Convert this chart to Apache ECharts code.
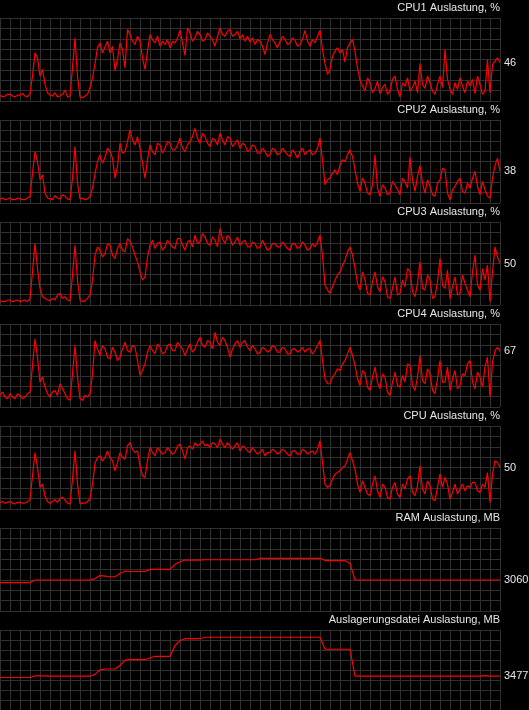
<!DOCTYPE html>
<html><head><meta charset="utf-8">
<script src="https://cdn.jsdelivr.net/npm/echarts@6/dist/echarts.min.js"></script>
<style>html,body{margin:0;padding:0;background:#000;}#c{width:529px;height:710px;}</style>
</head><body><div id="c"></div>
<script>
// sample indices (time steps)
const samplesFine = Array.from({length: 201}, (_, i) => String(i));
const samplesCoarse = Array.from({length: 101}, (_, i) => String(i));

const titles = ['CPU1 Auslastung, %','CPU2 Auslastung, %','CPU3 Auslastung, %','CPU4 Auslastung, %','CPU Auslastung, %','RAM Auslastung, MB','Auslagerungsdatei Auslastung, MB'];
const axisMax = [100,100,100,100,100,8192,8192];

const cpu1 = [7,5,6,8,8,6,5,7,7,9,6,5,9,30,58,52,30,38,20,10,
  7,6,10,5,6,8,13,5,6,40,76,30,5,4,6,8,16,28,45,64,
  70,58,65,72,58,66,37,50,70,62,40,86,80,72,68,78,72,52,38,60,
  80,74,70,78,66,72,68,74,64,72,70,76,85,70,55,88,82,72,76,84,
  80,72,74,82,78,74,66,78,88,80,78,84,86,78,80,84,75,80,72,78,
  71,76,68,74,72,66,56,70,80,74,70,64,72,78,74,68,70,76,73,66,
  68,74,85,72,66,74,70,78,85,62,45,32,38,54,60,64,58,62,47,64,
  70,74,60,40,25,18,12,28,22,10,15,24,9,16,20,8,12,26,30,14,
  5,22,18,28,12,16,24,10,45,20,15,30,22,12,8,20,30,16,62,26,
  14,8,22,14,28,18,10,24,18,26,9,30,20,8,12,50,10,44,48,52,
  46];
const cpu2 = [5,6,4,5,6,4,4,6,5,4,4,6,8,36,62,50,28,34,12,6,
  5,4,9,6,5,10,8,5,4,30,68,24,5,6,4,5,8,18,35,50,
  58,48,55,66,62,54,30,44,72,60,62,74,88,76,70,80,66,48,30,52,
  70,62,58,72,70,60,66,74,72,64,64,70,78,66,62,70,74,80,90,78,
  72,84,80,72,68,78,76,70,84,76,70,80,78,68,72,76,66,72,70,62,
  64,70,68,60,60,66,62,56,58,66,64,58,60,66,62,58,56,64,60,54,
  62,66,58,62,64,58,60,66,78,52,22,28,30,36,40,34,46,52,50,58,
  64,56,40,24,14,30,24,12,10,22,58,18,8,22,18,10,12,26,22,16,
  10,30,26,18,55,28,14,32,45,24,12,28,20,10,8,24,28,42,40,12,
  4,16,20,26,30,14,12,24,18,30,38,20,10,26,16,8,6,30,45,54,
  38];
const cpu3 = [5,4,4,6,6,4,5,6,4,5,6,4,8,40,74,44,20,10,8,6,
  5,8,6,12,14,8,10,6,5,36,72,30,6,4,5,8,12,30,60,70,
  66,58,62,74,72,60,56,68,74,66,64,80,76,70,60,52,40,30,34,58,
  72,78,68,74,76,66,70,78,74,70,68,80,80,72,66,76,78,70,84,74,
  76,86,82,74,72,82,78,70,92,80,74,84,80,72,76,82,72,76,78,70,
  70,76,74,68,70,78,72,66,68,74,74,70,70,76,72,68,66,74,74,68,
  70,76,72,66,68,74,70,76,84,60,24,18,14,22,30,36,40,48,54,64,
  70,60,44,26,18,40,30,14,12,28,40,22,16,34,28,10,8,20,34,12,
  14,30,22,44,40,16,10,26,52,20,18,36,30,8,10,28,56,24,20,42,
  8,22,34,12,14,36,26,18,10,40,60,24,18,44,30,48,4,40,70,58,
  50];
const cpu4 = [14,18,12,10,16,12,10,16,14,10,12,16,18,50,82,60,30,36,24,16,
  12,18,20,14,28,22,16,10,8,40,74,36,10,8,14,12,16,40,80,70,
  62,74,70,60,58,72,66,56,60,70,78,68,66,74,72,56,38,44,52,66,
  74,68,64,76,72,64,66,74,76,68,68,78,74,70,62,70,76,66,70,78,
  84,74,72,80,78,70,90,78,74,84,80,72,60,70,76,80,72,78,80,72,
  68,74,70,64,66,72,70,66,68,74,72,66,66,72,70,64,64,70,70,66,
  68,72,66,70,70,64,68,74,80,56,34,28,28,36,40,46,44,52,56,64,
  72,62,50,34,26,44,40,24,20,36,48,30,22,40,36,18,14,30,42,26,
  24,38,30,52,50,26,20,36,62,32,28,46,40,20,16,34,56,30,30,48,
  20,34,44,22,26,40,38,52,56,30,22,42,36,24,48,60,12,54,68,72,
  67];
const cpuAll = [8,9,7,8,9,7,6,8,8,7,7,9,11,40,68,50,26,30,16,9,
  7,9,11,8,13,14,11,7,6,36,70,30,6,7,7,9,12,30,55,62,
  64,58,62,70,62,58,46,56,68,62,60,76,80,72,68,70,52,40,38,58,
  74,68,64,74,70,66,68,74,70,66,68,76,78,70,60,74,76,72,80,76,
  78,82,76,78,74,80,78,74,84,78,74,80,76,72,76,80,70,76,74,70,
  68,74,70,66,68,72,64,68,68,72,70,66,68,72,70,66,64,70,70,66,
  66,72,70,66,68,70,66,72,82,56,30,26,28,36,42,44,46,50,52,60,
  68,58,48,30,20,34,26,18,16,30,40,22,14,30,26,14,12,26,32,18,
  14,30,24,36,40,20,16,28,52,24,18,34,28,12,10,26,42,26,38,30,
  12,20,30,18,24,30,22,28,26,32,32,22,20,30,26,44,8,42,58,56,
  50];
const ram = [2800,2800,2800,2800,2800,2800,2800,3060,3060,3060,
  3060,3060,3060,3060,3060,3060,3060,3060,3060,3200,
  3500,3450,3380,3380,3700,3950,3900,3900,3900,3900,
  4110,4110,4110,4110,4110,4600,4860,5030,5030,5030,
  5030,5060,5060,5060,5060,5060,5060,5060,5060,5060,
  5060,5060,5200,5200,5200,5200,5200,5200,5200,5200,
  5200,5200,5200,5200,5200,4980,4980,4980,4980,4980,
  4700,3060,3060,3060,3060,3060,3060,3060,3060,3060,
  3060,3060,3060,3060,3060,3060,3060,3060,3060,3060,
  3060,3060,3060,3060,3060,3060,3060,3060,3060,3060,
  3060];
const pagefile = [3330,3330,3330,3330,3330,3330,3330,3500,3500,3500,
  3460,3460,3460,3460,3460,3460,3460,3460,3460,3650,
  4100,4200,4200,4200,4550,5100,5150,5150,5150,5150,
  5330,5500,5500,5500,5500,6600,7100,7300,7300,7300,
  7300,7450,7450,7450,7450,7450,7450,7450,7450,7450,
  7450,7450,7450,7450,7450,7450,7450,7450,7450,7450,
  7450,7450,7450,7450,7450,6220,6220,6220,6220,6220,
  6220,3477,3477,3477,3477,3477,3477,3477,3477,3477,
  3477,3477,3477,3477,3477,3477,3477,3477,3477,3477,
  3477,3477,3477,3477,3477,3477,3477,3520,3477,3477,
  3477];
const seriesData = [cpu1, cpu2, cpu3, cpu4, cpuAll, ram, pagefile];

const FONT = 'Liberation Sans, Arial, sans-serif';
const GRIDCOL = '#303030';
const PITCH = 102, TOP0 = 18, H = 83;

const grid = [], xAxis = [], yAxis = [], series = [], title = [];
seriesData.forEach((d, i) => {
  const top = TOP0 + i * PITCH;
  const fine = d.length > 101;
  const step = fine ? 4 : 2;
  grid.push({left: 0, top: top, width: 500, height: H, containLabel: false});
  title.push({text: titles[i], right: 29, top: top - 16, padding: 0,
    textStyle: {color: '#e6e6e6', fontSize: 11, fontWeight: 'normal', fontFamily: FONT}});
  xAxis.push({type: 'category', gridIndex: i, data: fine ? samplesFine : samplesCoarse, boundaryGap: false,
    axisLine: {show: false}, axisTick: {show: false}, axisLabel: {show: false},
    splitLine: {show: true, interval: (idx) => idx % step === 0, lineStyle: {color: GRIDCOL, width: 1}}});
  yAxis.push({type: 'value', gridIndex: i, min: 0, max: axisMax[i], interval: axisMax[i] / 8,
    axisLine: {show: false}, axisTick: {show: false}, axisLabel: {show: false},
    splitLine: {show: true, lineStyle: {color: GRIDCOL, width: 1}}});
  series.push({type: 'line', xAxisIndex: i, yAxisIndex: i, data: d, symbol: 'none',
    lineStyle: {color: '#ff0000', width: 1.2}, silent: true,
    endLabel: {show: true, formatter: (p) => String(p.value), color: '#e6e6e6',
      fontSize: 11, fontFamily: FONT, distance: 4}});
});

const chart = echarts.init(document.getElementById('c'), null, {renderer: 'canvas'});
chart.setOption({backgroundColor: '#000', animation: false, title, grid, xAxis, yAxis, series});
</script></body></html>
